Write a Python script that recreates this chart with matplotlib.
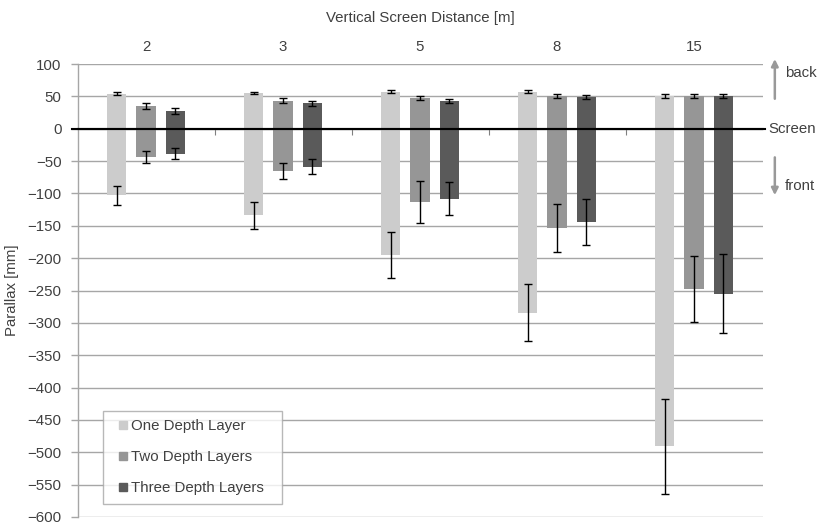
import matplotlib
matplotlib.use("Agg")
import matplotlib.pyplot as plt
from matplotlib.lines import Line2D
import numpy as np

plt.rcParams['font.family'] = ['Liberation Sans', 'DejaVu Sans']

categories = ['2', '3', '5', '8', '15']
series_names = ['One Depth Layer', 'Two Depth Layers', 'Three Depth Layers']
colors = ['#cccccc', '#969696', '#5a5a5a']

one_back = [54, 55, 57, 57, 51]
one_back_err = [2.5, 2, 2.5, 2.5, 3]
one_front = [-103, -134, -195, -284, -491]
one_front_err = [14.5, 21.5, 35, 44.5, 73.5]

two_back = [35, 43, 48, 50, 50]
two_back_err = [4.5, 4, 3, 3, 3]
two_front = [-44, -65, -113, -153, -248]
two_front_err = [9, 12, 32, 37, 51]

three_back = [28, 39.5, 43, 48.5, 50]
three_back_err = [4.5, 4, 3.5, 3, 3]
three_front = [-38.5, -58.5, -108, -144, -255]
three_front_err = [9, 12, 26, 36, 61]

backs = [one_back, two_back, three_back]
back_errs = [one_back_err, two_back_err, three_back_err]
fronts = [one_front, two_front, three_front]
front_errs = [one_front_err, two_front_err, three_front_err]

text_color = '#404040'
fs = 10.8

fig = plt.figure(figsize=(8.24, 5.28), dpi=100)
ax = fig.add_axes([77.5/824, 1-517/528, 685/824, 453/528])

x = np.arange(len(categories))
width = 0.142
offsets = [-0.215, 0.0, 0.215]
ekw = dict(ecolor='black', elinewidth=1.0, capsize=3, capthick=1.0)

for i in range(3):
    ax.bar(x + offsets[i], backs[i], width, color=colors[i],
           yerr=back_errs[i], error_kw=ekw, zorder=3)
    ax.bar(x + offsets[i], fronts[i], width, color=colors[i],
           yerr=front_errs[i], error_kw=ekw, zorder=3)

ax.set_xlim(-0.5, len(categories) - 0.5)
ax.set_ylim(-600, 100)
ax.set_yticks(np.arange(-600, 101, 50))
ax.yaxis.grid(True, color='#a6a6a6', linewidth=1.0, zorder=0)
ax.set_axisbelow(True)
ax.tick_params(axis='y', length=5, width=1.0, color='#a6a6a6', pad=6.5,
               labelsize=fs, labelcolor=text_color)

# zero line as bottom spine with category boundary ticks
ax.spines['bottom'].set_position(('data', 0))
ax.spines['bottom'].set_color('black')
ax.spines['bottom'].set_linewidth(1.5)
ax.spines['bottom'].set_zorder(4)
ax.set_xticks(np.arange(0.5, len(categories) - 1, 1.0))
ax.set_xticklabels([])
ax.tick_params(axis='x', length=4, width=0.8, color='#808080', direction='out')
ax.axhline(0, xmin=-0.008, xmax=1.004, color='black', linewidth=1.5, clip_on=False, zorder=4)

ax.spines['top'].set_visible(False)
ax.spines['right'].set_visible(False)
ax.spines['left'].set_color('#a6a6a6')
ax.spines['left'].set_linewidth(1.0)

# top category labels
sec = ax.secondary_xaxis('top')
sec.set_xticks(x)
sec.set_xticklabels(categories)
sec.tick_params(length=0, pad=7, labelsize=fs, labelcolor=text_color)
sec.spines['top'].set_visible(False)
sec.set_xlabel('Vertical Screen Distance [m]', fontsize=fs, color=text_color, labelpad=13)

ax.set_ylabel('Parallax [mm]', fontsize=fs, color=text_color)
ax.yaxis.set_label_coords((19 - 77.5) / 685, 0.5)

handles = [Line2D([], [], linestyle='none', marker='s', markersize=5.8,
                  markerfacecolor=c, markeredgecolor=c) for c in colors]
leg_x0 = (102.7 - 77.5) / 685
leg_y0 = (517 - 503.5) / 453
leg_w = (282 - 102.7) / 685
leg = ax.legend(handles, series_names, loc='lower left',
                bbox_to_anchor=(leg_x0, leg_y0, leg_w, 0.2), mode='expand',
                frameon=True, fancybox=False, edgecolor='#a6a6a6', fontsize=fs,
                handlelength=1.56, handletextpad=-0.25,
                labelspacing=1.15, borderpad=0.55, borderaxespad=0)
for t in leg.get_texts():
    t.set_color(text_color)
leg.get_frame().set_linewidth(1.0)

# right annotations
arrow_kw = dict(arrowstyle='-|>', color='#999999', lw=1.8, mutation_scale=10)
trans = ('axes fraction', 'data')
ax.annotate('', xy=(1.018, 112), xytext=(1.018, 42), xycoords=trans, textcoords=trans,
            arrowprops=arrow_kw, annotation_clip=False)
ax.annotate('', xy=(1.018, -107), xytext=(1.018, -40), xycoords=trans, textcoords=trans,
            arrowprops=arrow_kw, annotation_clip=False)
ax.annotate('back', xy=(1.033, 86), xycoords=trans, fontsize=fs, color=text_color,
            va='center', ha='left', annotation_clip=False)
ax.annotate('front', xy=(1.033, -88), xycoords=trans, fontsize=fs, color=text_color,
            va='center', ha='left', annotation_clip=False)
ax.annotate('Screen', xy=(1.009, 0), xycoords=trans, fontsize=fs, color=text_color,
            va='center', ha='left', annotation_clip=False)

fig.savefig('out.png', dpi=100)
